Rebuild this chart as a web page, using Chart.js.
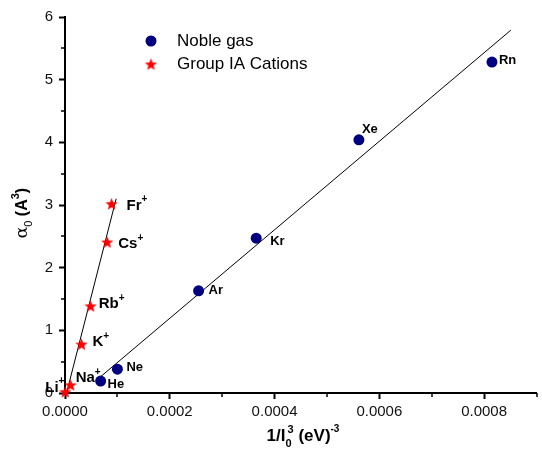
<!DOCTYPE html>
<html>
<head>
<meta charset="utf-8">
<script src="https://cdn.jsdelivr.net/npm/chart.js@4.4.1/dist/chart.umd.min.js"></script>
<style>body{margin:0;background:#fff}</style>
</head>
<body>
<canvas id="polChart" width="542" height="452"></canvas>
<script>
// values
const nobleNames = ['He', 'Ne', 'Ar', 'Kr', 'Xe', 'Rn'];
const nobleX = [0.000068, 0.000100, 0.000255, 0.000365, 0.000561, 0.000815];
const nobleY = [0.19, 0.38, 1.63, 2.47, 4.04, 5.28];

const cationNames = ['Li', 'Na', 'K', 'Rb', 'Cs', 'Fr'];
const cationX = [0.0000005, 0.0000108, 0.0000315, 0.000049, 0.0000806, 0.0000889];
const cationY = [0.02, 0.13, 0.78, 1.39, 2.41, 3.02];

// fitted lines (end points)
const nobleFitX = [0.000068, 0.000851];
const nobleFitY = [0.26, 5.79];
const cationFitX = [0.000003, 0.0000977];
const cationFitY = [0, 3.10];

const xTickValues = [0, 0.0002, 0.0004, 0.0006, 0.0008];
const yTickValues = [0, 1, 2, 3, 4, 5, 6];

// label offsets (px) from each point
const nobleOffsets = [[7, 3], [9, -2], [10, 0], [14, 3], [3, -10], [7, -2]];
const cationOffsets = [[-20, -4], [5, -7], [11, -2], [8, -2], [11, 2], [15, 2]];

const FONT = '"Liberation Sans", Arial, sans-serif';
const NAVY = '#000080';

function makeStar(r) {
    const c = document.createElement('canvas');
    const s = Math.ceil(r * 2 + 2);
    c.width = s; c.height = s;
    const g = c.getContext('2d');
    g.translate(s / 2, s / 2 + r * 0.1);
    g.beginPath();
    for (let i = 0; i < 10; i++) {
        const rad = i % 2 ? r * 0.42 : r;
        const a = -Math.PI / 2 + i * Math.PI / 5;
        g.lineTo(rad * Math.cos(a), rad * Math.sin(a));
    }
    g.closePath();
    g.fillStyle = '#ff0000';
    g.fill();
    return c;
}
const star = makeStar(6.5);

const toPoints = (xs, ys) => xs.map((v, i) => ({x: v, y: ys[i]}));

// draw a run of text pieces, each with its own font and vertical shift
function drawPieces(ctx, pieces, x, y, align) {
    let w = 0;
    pieces.forEach(p => {
        ctx.font = p.font;
        p.w = ctx.measureText(p.t).width;
        if (p.stack) p.w = Math.max(0, p.w - p.stack);
        w += p.w;
    });
    let cx = align === 'center' ? x - w / 2 : x;
    pieces.forEach(p => {
        ctx.font = p.font;
        const px = p.stack ? cx - p.stack : cx;
        ctx.fillText(p.t, px, y + (p.dy || 0));
        cx += p.w;
    });
}

const decorations = {
    id: 'decorations',
    afterDraw(chart) {
        const {ctx, scales: {x, y}} = chart;
        ctx.save();

        // minor ticks
        ctx.strokeStyle = '#000';
        ctx.lineWidth = 1.5;
        ctx.beginPath();
        [0.0001, 0.0003, 0.0005, 0.0007, 0.0009].forEach(v => {
            const px = Math.min(Math.round(x.getPixelForValue(v)), chart.width - 1);
            ctx.moveTo(px, y.bottom); ctx.lineTo(px, y.bottom + 4);
        });
        [0.5, 1.5, 2.5, 3.5, 4.5, 5.5].forEach(v => {
            const py = Math.round(y.getPixelForValue(v));
            ctx.moveTo(x.left, py); ctx.lineTo(x.left - 4, py);
        });
        ctx.stroke();

        // point labels
        ctx.fillStyle = '#000';
        ctx.textBaseline = 'middle';
        ctx.textAlign = 'left';
        nobleNames.forEach((n, i) => {
            const px = x.getPixelForValue(nobleX[i]) + nobleOffsets[i][0];
            const py = y.getPixelForValue(nobleY[i]) + nobleOffsets[i][1];
            ctx.font = 'bold 13px ' + FONT;
            ctx.fillText(n, px, py);
        });
        cationNames.forEach((n, i) => {
            const px = x.getPixelForValue(cationX[i]) + cationOffsets[i][0];
            const py = y.getPixelForValue(cationY[i]) + cationOffsets[i][1];
            drawPieces(ctx, [
                {t: n, font: 'bold 15px ' + FONT},
                {t: '+', font: 'bold 10px ' + FONT, dy: -6}
            ], px, py, 'left');
        });

        // legend
        ctx.fillStyle = NAVY;
        ctx.beginPath();
        ctx.arc(151, 41, 5.5, 0, Math.PI * 2);
        ctx.fill();
        ctx.drawImage(star, 151 - star.width / 2, 64 - star.height / 2);
        ctx.fillStyle = '#000';
        ctx.font = '17px ' + FONT;
        ctx.fillText('Noble gas', 177, 41);
        ctx.fillText('Group IA Cations', 177, 64);

        // x title
        ctx.textBaseline = 'alphabetic';
        drawPieces(ctx, [
            {t: '1/I', font: 'bold 17px ' + FONT},
            {t: '0', font: 'bold 11px ' + FONT, dy: 6},
            {t: '3', font: 'bold 11px ' + FONT, dy: -8, stack: 4},
            {t: ' (eV)', font: 'bold 17px ' + FONT},
            {t: '-3', font: 'bold 10px ' + FONT, dy: -9}
        ], 303, 441, 'center');

        // y title
        ctx.translate(27, 213);
        ctx.rotate(-Math.PI / 2);
        drawPieces(ctx, [
            {t: '\u03b1', font: '17px "DejaVu Serif", serif'},
            {t: '0', font: '11px ' + FONT, dy: 5},
            {t: ' (A', font: 'bold 16px ' + FONT},
            {t: '3', font: 'bold 11px ' + FONT, dy: -8},
            {t: ')', font: 'bold 16px ' + FONT}
        ], 0, 0, 'center');

        ctx.restore();
    }
};

const ctx = document.getElementById('polChart').getContext('2d');
new Chart(ctx, {
    type: 'scatter',
    data: {
        datasets: [{
            label: 'Noble gas fit',
            data: toPoints(nobleFitX, nobleFitY),
            showLine: true,
            borderColor: '#000',
            borderWidth: 1,
            pointRadius: 0,
            order: 3
        }, {
            label: 'Cation fit',
            data: toPoints(cationFitX, cationFitY),
            showLine: true,
            borderColor: '#000',
            borderWidth: 1,
            pointRadius: 0,
            order: 3
        }, {
            label: 'Noble gas',
            data: toPoints(nobleX, nobleY),
            pointStyle: 'circle',
            pointRadius: 5.5,
            backgroundColor: NAVY,
            borderColor: NAVY,
            borderWidth: 0,
            clip: false,
            order: 1
        }, {
            label: 'Group IA Cations',
            data: toPoints(cationX, cationY),
            pointStyle: star,
            clip: false,
            order: 1
        }]
    },
    options: {
        responsive: false,
        animation: false,
        layout: {padding: {top: 17, right: 0, left: 0, bottom: 0}},
        plugins: {
            legend: {display: false},
            tooltip: {enabled: false}
        },
        scales: {
            x: {
                type: 'linear',
                min: 0,
                max: 0.0009,
                afterFit: s => { s.height = 59; },
                afterBuildTicks: s => { s.ticks = xTickValues.map(v => ({value: v})); },
                border: {color: '#000', width: 2},
                grid: {drawOnChartArea: false, drawTicks: true, tickLength: 6, tickColor: '#000', tickWidth: 2},
                ticks: {
                    color: '#111',
                    padding: 4,
                    font: {family: FONT, size: 15},
                    callback: v => Number(v).toFixed(4)
                }
            },
            y: {
                min: 0,
                max: 6,
                afterFit: s => { s.width = 65; },
                afterBuildTicks: s => { s.ticks = yTickValues.map(v => ({value: v})); },
                border: {color: '#000', width: 2},
                grid: {drawOnChartArea: false, drawTicks: true, tickLength: 6, tickColor: '#000', tickWidth: 2},
                ticks: {
                    color: '#111',
                    padding: 6,
                    font: {family: FONT, size: 15},
                    callback: v => String(v)
                }
            }
        }
    },
    plugins: [decorations]
});
</script>
</body>
</html>
